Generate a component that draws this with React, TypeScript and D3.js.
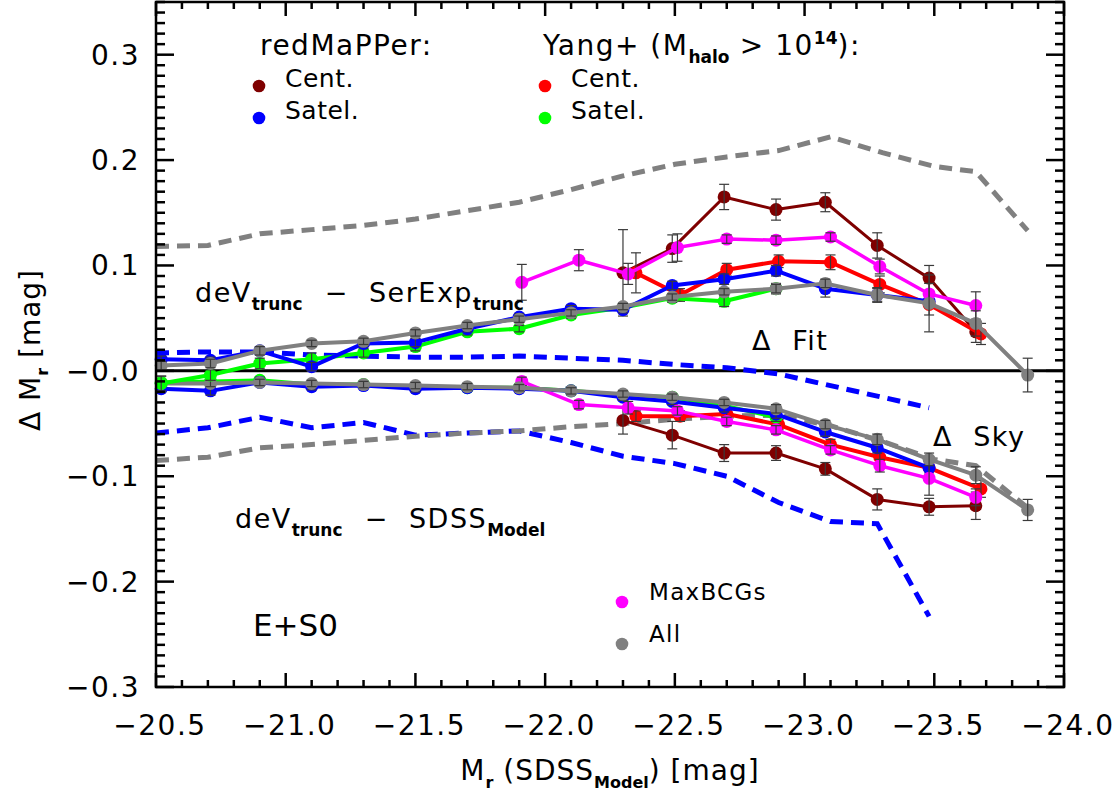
import * as d3 from 'd3'
import { useEffect, useRef } from 'react'

// magnitude bins of the full E+S0 sample
const binsAll = [-20.52, -20.71, -20.9, -21.1, -21.3, -21.5, -21.7, -21.9, -22.1, -22.3, -22.49, -22.69, -22.89, -23.08, -23.28, -23.48, -23.66, -23.86]

// All galaxies (gray)
const allFit = [0.005, 0.007, 0.019, 0.026, 0.028, 0.036, 0.043, 0.049, 0.055, 0.061, 0.07, 0.075, 0.078, 0.083, 0.072, 0.064, 0.045, -0.004]
const allFitErr = [0.004, 0.004, 0.004, 0.003, 0.003, 0.003, 0.003, 0.003, 0.003, 0.003, 0.003, 0.003, 0.004, 0.004, 0.007, 0.027, 0.012, 0.016]
const allModel = [-0.012, -0.012, -0.011, -0.012, -0.013, -0.014, -0.015, -0.016, -0.019, -0.022, -0.025, -0.03, -0.036, -0.051, -0.065, -0.084, -0.099, -0.132]
const allModelErr = [0.003, 0.003, 0.003, 0.003, 0.003, 0.003, 0.003, 0.003, 0.003, 0.003, 0.003, 0.003, 0.004, 0.004, 0.005, 0.006, 0.008, 0.01]

// redMaPPer satellites (blue)
const rmSatBins = binsAll.slice(0, 16)
const rmSatFit = [0.011, 0.01, 0.019, 0.004, 0.026, 0.027, 0.04, 0.051, 0.059, 0.058, 0.081, 0.087, 0.095, 0.078, 0.072, 0.066]
const rmSatFitErr = [0.003, 0.003, 0.003, 0.004, 0.003, 0.004, 0.003, 0.003, 0.003, 0.003, 0.004, 0.005, 0.005, 0.008, 0.006, 0.006]
const rmSatModel = [-0.017, -0.019, -0.011, -0.015, -0.014, -0.017, -0.016, -0.017, -0.019, -0.025, -0.029, -0.035, -0.041, -0.058, -0.073, -0.092]
const rmSatModelErr = [0.003, 0.004, 0.003, 0.003, 0.003, 0.003, 0.003, 0.003, 0.003, 0.003, 0.003, 0.004, 0.004, 0.004, 0.005, 0.006]

// Yang+ satellites (green)
const ySatBins = binsAll.slice(0, 13)
const ySatFit = [-0.012, -0.004, 0.007, 0.011, 0.017, 0.023, 0.037, 0.04, 0.053, 0.06, 0.069, 0.066, 0.078]
const ySatFitErr = [0.007, 0.005, 0.005, 0.006, 0.004, 0.004, 0.003, 0.003, 0.003, 0.003, 0.004, 0.005, 0.005]
const ySatModel = [-0.011, -0.01, -0.009, -0.013, -0.013, -0.016, -0.016, -0.016, -0.019, -0.023, -0.025, -0.033, -0.044]
const ySatModelErr = [0.006, 0.004, 0.003, 0.003, 0.003, 0.003, 0.003, 0.003, 0.003, 0.003, 0.003, 0.004, 0.004]

// Yang+ centrals (red)
const yCenBins = [-22.35, -22.52, -22.7, -22.9, -23.1, -23.29, -23.48, -23.68]
const yCenFit = [0.093, 0.072, 0.096, 0.104, 0.103, 0.082, 0.063, 0.035]
const yCenFitErr = [0.019, 0.006, 0.006, 0.006, 0.007, 0.008, 0.01, 0.01]
const yCenModel = [-0.043, -0.043, -0.041, -0.051, -0.07, -0.082, -0.092, -0.112]
const yCenModelErr = [0.005, 0.005, 0.005, 0.005, 0.005, 0.006, 0.007, 0.008]

// redMaPPer centrals (dark red)
const rmCenBins = [-22.3, -22.49, -22.69, -22.89, -23.08, -23.28, -23.48, -23.66]
const rmCenFit = [0.093, 0.116, 0.165, 0.153, 0.16, 0.119, 0.088, 0.037]
const rmCenFitErr = [0.041, 0.013, 0.012, 0.01, 0.009, 0.012, 0.012, 0.01]
const rmCenModel = [-0.047, -0.061, -0.078, -0.078, -0.093, -0.122, -0.129, -0.128]
const rmCenModelErr = [0.013, 0.013, 0.008, 0.007, 0.006, 0.01, 0.008, 0.013]

// MaxBCGs (magenta)
const mbBins = [-21.91, -22.13, -22.32, -22.51, -22.7, -22.89, -23.1, -23.29, -23.48, -23.66]
const mbFit = [0.084, 0.105, 0.092, 0.117, 0.125, 0.124, 0.127, 0.099, 0.073, 0.062]
const mbFitErr = [0.017, 0.01, 0.01, 0.013, 0.004, 0.004, 0.004, 0.007, 0.01, 0.013]
const mbModel = [-0.01, -0.032, -0.035, -0.038, -0.048, -0.056, -0.075, -0.09, -0.102, -0.12]
const mbModelErr = [0.004, 0.004, 0.006, 0.004, 0.004, 0.004, 0.004, 0.006, 0.016, 0.008]

// dashed curves
const dashBins = [-20.5, -20.7, -20.9, -21.1, -21.3, -21.5, -21.7, -21.9, -22.1, -22.3, -22.5, -22.7, -22.9, -23.1, -23.3, -23.5, -23.66, -23.86]
const grayDashTop = [0.118, 0.119, 0.13, 0.134, 0.138, 0.144, 0.152, 0.16, 0.172, 0.185, 0.196, 0.203, 0.209, 0.222, 0.207, 0.194, 0.189, 0.133]
const grayDashBottom = [-0.085, -0.082, -0.073, -0.07, -0.066, -0.062, -0.059, -0.057, -0.053, -0.05, -0.046, -0.043, -0.042, -0.052, -0.067, -0.084, -0.09, -0.13]
const blueDashBins = [-20.5, -20.7, -20.9, -21.1, -21.3, -21.5, -21.7, -21.9, -22.1, -22.3, -22.5, -22.7, -22.9, -23.1, -23.28, -23.48]
const blueDashTop = [0.017, 0.018, 0.018, 0.015, 0.014, 0.013, 0.013, 0.014, 0.012, 0.01, 0.006, 0.003, -0.003, -0.014, -0.024, -0.035]
const blueDashBottom = [-0.059, -0.054, -0.044, -0.054, -0.049, -0.061, -0.059, -0.057, -0.068, -0.081, -0.088, -0.1, -0.125, -0.143, -0.145, -0.233]

const xMajor = [-20.5, -21.0, -21.5, -22.0, -22.5, -23.0, -23.5, -24.0]
const xMajorLabels = ['−20.5', '−21.0', '−21.5', '−22.0', '−22.5', '−23.0', '−23.5', '−24.0']
const yMajor = [0.3, 0.2, 0.1, 0.0, -0.1, -0.2, -0.3]
const yMajorLabels = ['0.3', '0.2', '0.1', '−0.0', '−0.1', '−0.2', '−0.3']

type Seg = { t: string; sub?: boolean; sup?: boolean; dx?: number }

const FONT = '"DejaVu Sans", sans-serif'

export default function App() {
  const svgRef = useRef<SVGSVGElement | null>(null)

  useEffect(() => {
    if (!svgRef.current) return
    const width = 1115
    const height = 792
    const plot = { left: 156, right: 1064, top: 2, bottom: 687 }

    const svg = d3.select(svgRef.current)
    svg.selectAll('*').remove()
    svg.attr('width', width).attr('height', height)

    const x = d3.scaleLinear().domain([-20.5, -24.0]).range([plot.left, plot.right])
    const y = d3.scaleLinear().domain([-0.3, 0.35]).range([plot.bottom, plot.top])

    svg.append('rect').attr('width', width).attr('height', height).attr('fill', 'white')

    const richText = (
      parent: d3.Selection<any, unknown, null, undefined>,
      px: number,
      py: number,
      segs: Seg[],
      size: number,
      opts: { anchor?: string; ls?: number; subSize?: number; transform?: string } = {}
    ) => {
      const subSize = opts.subSize ?? Math.round(size * 0.64)
      const t = parent
        .append('text')
        .attr('x', px)
        .attr('y', py)
        .attr('font-family', FONT)
        .attr('font-size', size)
        .attr('letter-spacing', opts.ls ?? 0)
        .attr('text-anchor', opts.anchor ?? 'start')
        .style('white-space', 'pre')
        .attr('fill', 'black')
      if (opts.transform) t.attr('transform', opts.transform)
      let shift = 0
      segs.forEach(s => {
        const target = s.sub ? size * 0.3 : s.sup ? -size * 0.38 : 0
        const sp = t.append('tspan').attr('dy', target - shift).text(s.t)
        if (s.dx) sp.attr('dx', s.dx)
        if (s.sub || s.sup) sp.attr('font-size', subSize).attr('font-weight', 'bold').attr('letter-spacing', 0)
        shift = target
      })
      return t
    }

    // zero line
    svg
      .append('line')
      .attr('x1', plot.left)
      .attr('x2', plot.right)
      .attr('y1', y(0))
      .attr('y2', y(0))
      .attr('stroke', 'black')
      .attr('stroke-width', 3)

    const dashed = (bins: number[], vals: number[], color: string) => {
      const pts = bins.map((b, i) => [b, vals[i]] as [number, number])
      const line = d3
        .line<[number, number]>()
        .x(d => x(d[0]))
        .y(d => y(d[1]))
      svg
        .append('path')
        .datum(pts)
        .attr('fill', 'none')
        .attr('stroke', color)
        .attr('stroke-width', 5)
        .attr('stroke-dasharray', '13 8')
        .attr('d', line)
    }

    dashed(dashBins, grayDashTop, '#808080')
    dashed(blueDashBins, blueDashTop, '#0000ff')
    dashed(blueDashBins, blueDashBottom, '#0000ff')
    dashed(dashBins, grayDashBottom, '#808080')

    const series = (bins: number[], vals: number[], errs: number[], color: string, lw: number) => {
      const pts = bins.map((b, i) => [b, vals[i], errs[i]] as [number, number, number])
      const line = d3
        .line<[number, number, number]>()
        .x(d => x(d[0]))
        .y(d => y(d[1]))
      const g = svg.append('g')
      g.append('path')
        .datum(pts)
        .attr('fill', 'none')
        .attr('stroke', color)
        .attr('stroke-width', lw)
        .attr('stroke-linejoin', 'round')
        .attr('d', line)
      g.selectAll('circle')
        .data(pts)
        .join('circle')
        .attr('cx', d => x(d[0]))
        .attr('cy', d => y(d[1]))
        .attr('r', 6.5)
        .attr('fill', color)
      const eb = g.append('g').attr('stroke', '#3a3a3a').attr('stroke-width', 1.2)
      pts.forEach(d => {
        const cx = x(d[0])
        const y1 = y(d[1] + d[2])
        const y2 = y(d[1] - d[2])
        eb.append('line').attr('x1', cx).attr('x2', cx).attr('y1', y1).attr('y2', y2)
        eb.append('line').attr('x1', cx - 5).attr('x2', cx + 5).attr('y1', y1).attr('y2', y1)
        eb.append('line').attr('x1', cx - 5).attr('x2', cx + 5).attr('y1', y2).attr('y2', y2)
      })
    }

    // deV_trunc - SDSS_Model
    series(rmCenBins, rmCenModel, rmCenModelErr, '#7f0000', 3)
    series(yCenBins, yCenModel, yCenModelErr, '#ff0000', 4)
    series(ySatBins, ySatModel, ySatModelErr, '#00ff00', 4)
    series(rmSatBins, rmSatModel, rmSatModelErr, '#0000ff', 4)
    series(mbBins, mbModel, mbModelErr, '#ff00ff', 3.5)
    series(binsAll, allModel, allModelErr, '#808080', 4)

    // deV_trunc - SerExp_trunc
    series(rmCenBins, rmCenFit, rmCenFitErr, '#7f0000', 3)
    series(yCenBins, yCenFit, yCenFitErr, '#ff0000', 4)
    series(ySatBins, ySatFit, ySatFitErr, '#00ff00', 4)
    series(rmSatBins, rmSatFit, rmSatFitErr, '#0000ff', 4)
    series(mbBins, mbFit, mbFitErr, '#ff00ff', 3.5)
    series(binsAll, allFit, allFitErr, '#808080', 4)

    // frame and ticks
    const axes = svg.append('g').attr('stroke', 'black').attr('stroke-width', 2.5)
    axes
      .append('rect')
      .attr('x', plot.left)
      .attr('y', plot.top)
      .attr('width', plot.right - plot.left)
      .attr('height', plot.bottom - plot.top)
      .attr('fill', 'none')

    d3.range(0, 36).forEach(i => {
      const v = -20.5 - i * 0.1
      const major = i % 5 === 0
      const len = major ? 14 : 7
      const px = x(v)
      axes.append('line').attr('x1', px).attr('x2', px).attr('y1', plot.bottom).attr('y2', plot.bottom - len)
      axes.append('line').attr('x1', px).attr('x2', px).attr('y1', plot.top).attr('y2', plot.top + len)
    })
    d3.range(0, 66).forEach(i => {
      const v = -0.3 + i * 0.01
      const major = i % 10 === 0
      const len = major ? 18 : 9
      const py = y(v)
      axes.append('line').attr('x1', plot.left).attr('x2', plot.left + len).attr('y1', py).attr('y2', py)
      axes.append('line').attr('x1', plot.right).attr('x2', plot.right - len).attr('y1', py).attr('y2', py)
    })

    xMajor.forEach((v, i) => {
      svg
        .append('text')
        .attr('x', x(v) + 4)
        .attr('y', 735)
        .attr('text-anchor', 'middle')
        .attr('font-family', FONT)
        .attr('font-size', 28)
        .attr('letter-spacing', 1.5)
        .text(xMajorLabels[i])
    })
    yMajor.forEach((v, i) => {
      svg
        .append('text')
        .attr('x', 140)
        .attr('y', y(v) + 10)
        .attr('text-anchor', 'end')
        .attr('font-family', FONT)
        .attr('font-size', 28)
        .attr('letter-spacing', 1.5)
        .text(yMajorLabels[i])
    })

    // axis titles
    richText(svg, 610, 780, [{ t: 'M' }, { t: 'r', sub: true }, { t: ' (SDSS' }, { t: 'Model', sub: true }, { t: ') [mag]' }], 28, {
      anchor: 'middle',
      ls: 1,
      subSize: 16
    })
    richText(svg, 0, 0, [{ t: 'Δ M' }, { t: 'r', sub: true }, { t: ' [mag]' }], 28, {
      anchor: 'middle',
      ls: 1,
      subSize: 16,
      transform: 'translate(40,350) rotate(-90)'
    })

    // annotations
    richText(svg, 195, 302, [{ t: 'deV' }, { t: 'trunc', sub: true }, { t: '  −  ', dx: 2 }, { t: 'SerExp' }, { t: 'trunc', sub: true }], 27, {
      ls: 1.5,
      subSize: 17
    })
    richText(svg, 235, 528, [{ t: 'deV' }, { t: 'trunc', sub: true }, { t: '  −  ', dx: 2 }, { t: 'SDSS' }, { t: 'Model', sub: true }], 27, {
      ls: 1.5,
      subSize: 17
    })
    richText(svg, 752, 350, [{ t: 'Δ  Fit' }], 27, { ls: 1.5 })
    richText(svg, 933, 446, [{ t: 'Δ  Sky' }], 27, { ls: 1.5 })
    richText(svg, 253, 636, [{ t: 'E+S0' }], 31, {})

    // legend
    richText(svg, 260, 55, [{ t: 'redMaPPer:' }], 28, { ls: 1.5 })
    richText(
      svg,
      543,
      55,
      [{ t: 'Yang+ (M' }, { t: 'halo', sub: true }, { t: ' > 10' }, { t: '14', sup: true }, { t: '):' }],
      28,
      { ls: 1.5, subSize: 17 }
    )
    const legendItems: [number, number, string, string][] = [
      [259, 86, '#7f0000', 'Cent.'],
      [259, 118, '#0000ff', 'Satel.'],
      [545, 86, '#ff0000', 'Cent.'],
      [545, 118, '#00ff00', 'Satel.']
    ]
    legendItems.forEach(([lx, ly, c, label]) => {
      svg.append('circle').attr('cx', lx).attr('cy', ly).attr('r', 6.3).attr('fill', c)
      richText(svg, lx + 26, ly + 1, [{ t: label }], 25, { ls: 0.5 })
    })
    const legendBottom: [number, number, string, string][] = [
      [622, 602, '#ff00ff', 'MaxBCGs'],
      [622, 644, '#808080', 'All']
    ]
    legendBottom.forEach(([lx, ly, c, label]) => {
      svg.append('circle').attr('cx', lx).attr('cy', ly).attr('r', 6.3).attr('fill', c)
      richText(svg, lx + 27, ly - 2, [{ t: label }], 23, { ls: 1.3 })
    })
  }, [])

  return <svg ref={svgRef} style={{ position: 'absolute', left: 0, top: 0 }} />
}
